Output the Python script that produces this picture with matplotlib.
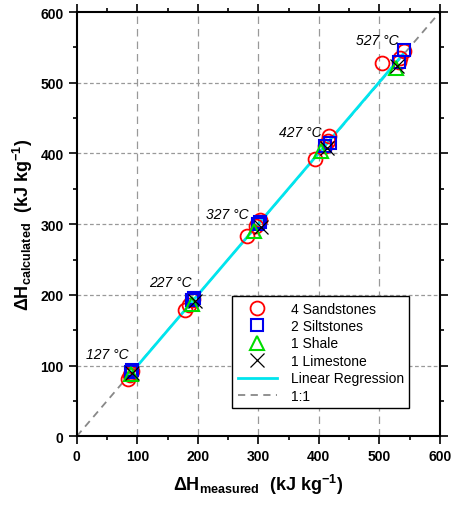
import numpy as np
import matplotlib
matplotlib.use("Agg")
import matplotlib.pyplot as plt
from matplotlib.ticker import MultipleLocator

plt.rcParams['font.family'] = ['Liberation Sans', 'DejaVu Sans']
plt.rcParams['mathtext.default'] = 'regular'

# measured / calculated enthalpy (kJ/kg) at 127, 227, 327, 427, 527 degC
sand_x = [84, 88, 90, 91, 178, 186, 190, 192, 282, 296, 300, 302, 393, 410, 415, 417, 505, 532, 535, 541]
sand_y = [81, 87, 90, 92, 178, 186, 192, 194, 283, 297, 303, 306, 392, 410, 418, 425, 528, 530, 535, 545]
silt_x = [90, 92, 191, 193, 300, 302, 410, 418, 533, 540]
silt_y = [91, 93, 193, 195, 300, 303, 410, 415, 530, 546]
shale_x = [89, 190, 293, 404, 528]
shale_y = [88, 187, 290, 404, 521]
lime_x = [92, 195, 305, 413, 530]
lime_y = [89, 191, 296, 408, 524]

temp_labels = ['127 °C', '227 °C', '327 °C', '427 °C', '527 °C']
temp_lx = [50, 154, 248, 369, 496]
temp_ly = [116, 218, 315, 430, 561]

fig = plt.figure(figsize=(4.52, 5.06), dpi=100)
ax = fig.add_axes([0.170, 0.136, 0.803, 0.838])

ax.set_xlim(0, 600)
ax.set_ylim(0, 600)
ax.xaxis.set_major_locator(MultipleLocator(100))
ax.yaxis.set_major_locator(MultipleLocator(100))
ax.xaxis.set_minor_locator(MultipleLocator(50))
ax.yaxis.set_minor_locator(MultipleLocator(50))

for v in range(100, 600, 100):
    ax.axvline(v, color='#999999', lw=0.9, dashes=(6, 4), zorder=0)
    ax.axhline(v, color='#999999', lw=0.9, dashes=(3, 2), zorder=0)

# 1:1 line
one_line, = ax.plot([0, 600], [0, 600], color='#888888', lw=1.3, dashes=(4, 3), zorder=1)

# linear regression over all samples
all_x = np.array(sand_x + silt_x + shale_x + lime_x, dtype=float)
all_y = np.array(sand_y + silt_y + shale_y + lime_y, dtype=float)
k, b = np.polyfit(all_x, all_y, 1)
xr = np.array([all_x.min(), all_x.max()])
reg_line, = ax.plot(xr, k * xr + b, color='#00e5ee', lw=2, zorder=2)

h1, = ax.plot(sand_x, sand_y, 'o', mfc='none', mec='red', ms=10, mew=1.3, ls='none', zorder=3)
h2, = ax.plot(silt_x, silt_y, 's', mfc='none', mec='#0000ee', ms=9, mew=1.5, ls='none', zorder=3)
h3, = ax.plot(shale_x, shale_y, '^', mfc='none', mec='#00dd00', ms=10, mew=1.5, ls='none', zorder=3)
h4, = ax.plot(lime_x, lime_y, 'x', color='black', ms=10, mew=0.9, ls='none', zorder=4)

for t, x, y in zip(temp_labels, temp_lx, temp_ly):
    ax.text(x, y, t, fontsize=10, style='italic', ha='center', va='center')

leg = ax.legend([h1, h2, h3, h4, reg_line, one_line],
                ['4 Sandstones', '2 Siltstones', '1 Shale', '1 Limestone', 'Linear Regression', '1:1'],
                loc='upper right', bbox_to_anchor=(0.935, 0.347), fontsize=10,
                frameon=True, fancybox=False, edgecolor='black', framealpha=1,
                labelspacing=0.25, handlelength=2.8, borderpad=0.4, handletextpad=1.0)
leg.get_frame().set_linewidth(1.0)

for s in ax.spines.values():
    s.set_linewidth(1.5)
ax.tick_params(which='both', direction='out', top=True, right=True, width=1.2)
ax.tick_params(which='major', length=6, labelsize=10)
ax.tick_params(which='minor', length=3)
for lab in ax.get_xticklabels() + ax.get_yticklabels():
    lab.set_fontweight('bold')
ax.tick_params(labeltop=False, labelright=False)

ax.set_xlabel(r'$\Delta H_{measured}$  (kJ kg$^{-1}$)', fontsize=13, fontweight='bold', labelpad=6)
ax.set_ylabel(r'$\Delta H_{calculated}$  (kJ kg$^{-1}$)', fontsize=13, fontweight='bold', labelpad=4)

fig.savefig('out.png', dpi=100)
